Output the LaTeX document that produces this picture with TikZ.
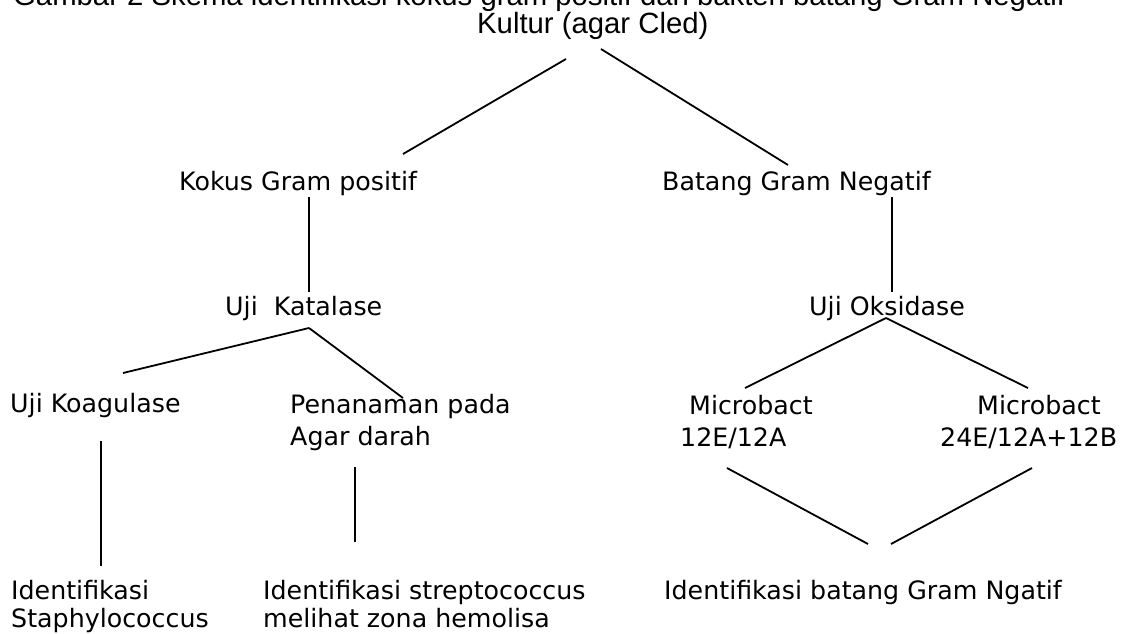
\documentclass[tikz,border=0pt]{standalone}
\usepackage{fontspec}
\setmainfont{DejaVu Sans}
\newfontfamily\capfont{Liberation Sans}
\tikzset{
  label txt/.style={inner sep=0pt, anchor=base west, align=left,
                    font=\fontsize{25.3}{32}\selectfont},
  end txt/.style={label txt, font=\fontsize{25.3}{28}\selectfont},
  head txt/.style={inner sep=0pt, anchor=base west,
                   font=\capfont\fontsize{29.3}{34}\selectfont},
  link/.style={line width=1.8pt}
}
\begin{document}
\begin{tikzpicture}[x=1pt, y=-1pt]
\useasboundingbox (0,0) rectangle (1124,633);
% caption line, cut at the top edge
\node[head txt] (caption) at (13,5) {Gambar 2 Skema identifikasi kokus gram positif dan bakteri batang Gram Negatif};
\node[head txt] (kultur) at (477,33) {Kultur (agar Cled)};
% level 1
\node[label txt] (kokus)  at (179,190) {Kokus Gram positif};
\node[label txt] (batang) at (662,190) {Batang Gram Negatif};
% level 2
\node[label txt] (katalase) at (225,315) {Uji\ \ Katalase};
\node[label txt] (oksidase) at (809,315) {Uji Oksidase};
% level 3 (two-line nodes sit on their last line)
\node[label txt] (koagulase) at (10,412)  {Uji Koagulase};
\node[label txt] (penanaman) at (290,445) {Penanaman pada\\Agar darah};
\node[label txt] (mcA)       at (680,446) {\hspace*{9pt}Microbact\\12E/12A};
\node[label txt] (mcB)       at (940,446) {\hspace*{37pt}Microbact\\24E/12A+12B};
% level 4
\node[end txt] (idStaph)  at (11,627)  {Identifikasi\\Staphylococcus};
\node[end txt] (idStrep)  at (263,627) {Identifikasi streptococcus\\melihat zona hemolisa};
\node[end txt] (idBatang) at (664,599) {Identifikasi batang Gram Ngatif};

\draw[link] ([xshift=89pt,yshift=-26pt]kultur.base west) -- ([xshift=224pt,yshift=36pt]kokus.base west);
\draw[link] ([xshift=124pt,yshift=-16pt]kultur.base west) -- ([xshift=126pt,yshift=25pt]batang.base west);
\draw[link] ([xshift=130pt,yshift=-7pt]kokus.base west) -- ([xshift=84pt,yshift=23pt]katalase.base west);
\draw[link] ([xshift=230pt,yshift=-7pt]batang.base west) -- ([xshift=83pt,yshift=23pt]oksidase.base west);
\draw[link] ([xshift=84pt,yshift=-13pt]katalase.base west) -- ([xshift=113pt,yshift=39pt]koagulase.base west);
\draw[link] ([xshift=84pt,yshift=-13pt]katalase.base west) -- ([xshift=113pt,yshift=47pt]penanaman.base west);
\draw[link] ([xshift=77pt,yshift=-3pt]oksidase.base west) -- ([xshift=65pt,yshift=58pt]mcA.base west);
\draw[link] ([xshift=77pt,yshift=-3pt]oksidase.base west) -- ([xshift=88pt,yshift=58pt]mcB.base west);
\draw[link] ([xshift=91pt,yshift=-29pt]koagulase.base west) -- ([xshift=90pt,yshift=61pt]idStaph.base west);
\draw[link] ([xshift=65pt,yshift=-22pt]penanaman.base west) -- ([xshift=92pt,yshift=85pt]idStrep.base west);
\draw[link] ([xshift=47pt,yshift=-22pt]mcA.base west) -- ([xshift=204pt,yshift=55pt]idBatang.base west);
\draw[link] ([xshift=92pt,yshift=-22pt]mcB.base west) -- ([xshift=227pt,yshift=55pt]idBatang.base west);
\end{tikzpicture}
\end{document}
